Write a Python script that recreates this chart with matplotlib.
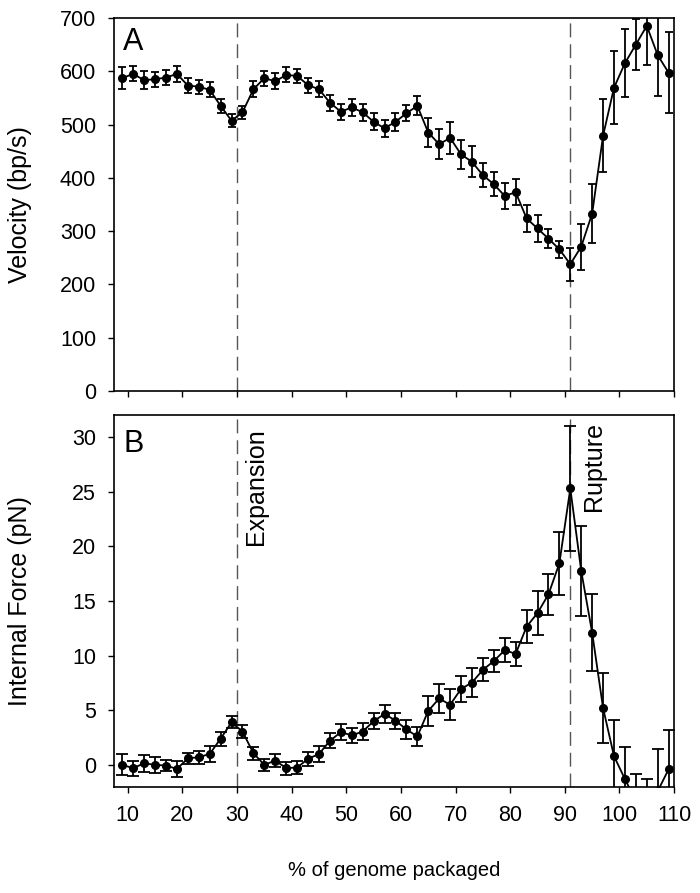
import matplotlib
matplotlib.use("Agg")
import matplotlib.pyplot as plt

plt.rcParams['font.family'] = ['Liberation Sans', 'DejaVu Sans']

# % of genome packaged (every 2 %)
pct = list(range(9, 111, 2))

velocity = [587, 595, 583, 585, 588, 595, 573, 571, 565, 535,
            507, 523, 566, 587, 581, 593, 591, 574, 566, 541,
            524, 532, 523, 505, 493, 505, 521, 535, 485, 463,
            475, 444, 430, 405, 388, 366, 373, 324, 305, 286,
            266, 238, 271, 333, 479, 569, 615, 650, 685, 630,
            597]
velocity_err = [20, 14, 17, 14, 14, 15, 14, 13, 14, 13,
                12, 12, 15, 14, 15, 14, 14, 14, 15, 15,
                15, 16, 16, 16, 16, 17, 15, 18, 27, 28,
                30, 27, 29, 23, 23, 24, 24, 25, 26, 18,
                16, 31, 43, 55, 68, 68, 64, 47, 73, 77,
                76]

force = [0.0, -0.3, 0.15, 0.0, -0.06, -0.37, 0.6, 0.7, 1.0, 2.4,
         3.9, 3.05, 1.07, 0.0, 0.4, -0.3, -0.24, 0.55, 1.0, 2.2,
         3.0, 2.7, 3.05, 4.0, 4.66, 4.05, 3.25, 2.6, 4.94, 6.08,
         5.5, 6.95, 7.53, 8.7, 9.5, 10.5, 10.16, 12.65, 13.9, 15.6,
         18.45, 25.3, 17.75, 12.1, 5.2, 0.8, -1.3, -3.3, -3.5, -2.4,
         -0.4]
force_err = [0.96, 0.7, 0.76, 0.7, 0.5, 0.73, 0.5, 0.6, 0.7, 0.65,
             0.55, 0.6, 0.6, 0.55, 0.6, 0.6, 0.56, 0.65, 0.7, 0.7,
             0.7, 0.7, 0.75, 0.76, 0.84, 0.73, 0.84, 0.87, 1.34, 1.33,
             1.43, 1.23, 1.31, 1.04, 1.0, 1.07, 1.08, 1.52, 2.0, 1.87,
             2.87, 5.75, 4.1, 3.5, 3.2, 3.35, 2.96, 2.45, 2.2, 3.83,
             3.55]

events = [30, 91]
event_names = ["Expansion", "Rupture"]
x_ticks = list(range(10, 111, 10))

fig = plt.figure(figsize=(7, 8.93), dpi=100)
fig.patch.set_facecolor('white')
ax_a = fig.add_axes([0.163, 0.562, 0.800, 0.418])
ax_b = fig.add_axes([0.163, 0.119, 0.800, 0.416])

tick_fs = 15.5

for ax in (ax_a, ax_b):
    for ev in events:
        ax.axvline(ev, color='#555555', lw=1.0, dashes=(10, 5), zorder=1)
    ax.set_xlim(7.5, 110)
    ax.set_xticks(x_ticks)
    ax.tick_params(direction='out', length=4, width=1, labelsize=tick_fs, pad=9)
    for s in ax.spines.values():
        s.set_linewidth(1.2)

# panel A: velocity
ax_a.errorbar(pct, velocity, yerr=velocity_err, color='black', lw=1.3,
              marker='o', markersize=5.5, elinewidth=1.3, capsize=2.6,
              capthick=1.3, zorder=3)
ax_a.set_ylim(0, 700)
ax_a.set_yticks(range(0, 701, 100))
ax_a.tick_params(axis='x', labelbottom=False)
ax_a.set_ylabel("Velocity (bp/s)", fontsize=18, va='center')
ax_a.yaxis.set_label_coords(-0.168, 0.5)
ax_a.text(0.015, 0.975, "A", transform=ax_a.transAxes, fontsize=22,
          ha='left', va='top')

# panel B: internal force
ax_b.errorbar(pct, force, yerr=force_err, color='black', lw=1.3,
              marker='o', markersize=5.5, elinewidth=1.3, capsize=4.5,
              capthick=1.3, zorder=3)
ax_b.set_ylim(-2, 32)
ax_b.set_yticks(range(0, 31, 5))
ax_b.set_ylabel("Internal Force (pN)", fontsize=18, va='center')
ax_b.yaxis.set_label_coords(-0.168, 0.5)
ax_b.set_xlabel("% of genome packaged", fontsize=14.5, va='center')
ax_b.xaxis.set_label_coords(0.5, -0.226)
ax_b.text(0.016, 0.962, "B", transform=ax_b.transAxes, fontsize=22,
          ha='left', va='top')

ax_b.text(31.2, 30.8, event_names[0], rotation=90, fontsize=18,
          ha='left', va='top')
ax_b.text(93.1, 31.4, event_names[1], rotation=90, fontsize=18,
          ha='left', va='top')

fig.savefig("out.png", dpi=100)
